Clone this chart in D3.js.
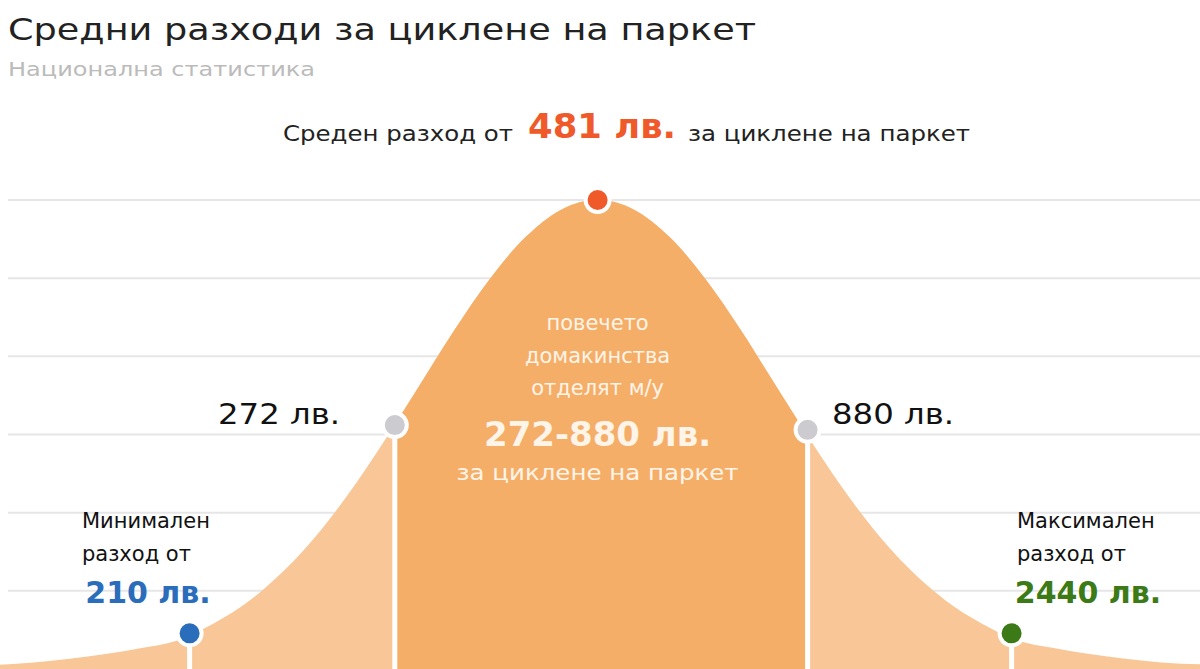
<!DOCTYPE html>
<html><head><meta charset="utf-8">
<script src="https://cdn.jsdelivr.net/npm/d3@7"></script>
<style>body{margin:0;background:#fff}svg{display:block}</style>
</head><body><svg id="c" width="1200" height="669"></svg>
<script>
// curve shape (position units 0-100, height 0-100)
const curveX = [0,2.8,5.8,8.8,11.8,14.8,17.8,20.8,23.8,26.8,29.8,32.8,34.8,37.8,40.8,43.8,46.8,49.8,52.8,55.8,58.8,61.8,64.8,66.8,69.8,72.8,75.8,78.8,81.8,84.8,87.8,90.8,93.8,96.8,100];
const curveY = [0.9,1.4,2.2,3.2,4.5,6.1,9.7,14.6,21.3,29.8,40.1,51.7,59.8,72,83.1,92.1,98,100,98,92.1,83.1,72,59.8,51.7,40.1,29.8,21.3,14.6,9.7,6.1,4.5,3.2,2.2,1.4,1.0];
const gridTicks = [16.67,33.33,50,66.67,83.33,100];
const markerLabels = ["210 лв.","272 лв.","481 лв.","880 лв.","2440 лв."];
const markerValues = [210,272,481,880,2440];
const markerPos = [15.8,32.9,49.8,67.3,84.3];
const markerHeight = [7.6,52,100,51,7.6];
const markerColors = ["#2A6EBB","#CBCBD0","#F05A2A","#CBCBD0","#3B7A17"];

const svg = d3.select("#c");
const x = d3.scaleLinear().domain([0,100]).range([0,1200]);
const y = d3.scaleLinear().domain([0,100]).range([669,200]);

svg.append("g").selectAll("line").data(gridTicks).join("line")
 .attr("x1",8).attr("x2",1200).attr("y1",d=>y(d)).attr("y2",d=>y(d))
 .attr("stroke","#e6e6e6").attr("stroke-width",2);

const pts = curveX.map((v,i)=>[v,curveY[i]]);
const area = d3.area().x(d=>x(d[0])).y0(y(0)).y1(d=>y(d[1])).curve(d3.curveMonotoneX);
const defs = svg.append("defs");
defs.append("clipPath").attr("id","mid").append("rect")
 .attr("x",x(markerPos[1])).attr("width",x(markerPos[3])-x(markerPos[1])).attr("y",0).attr("height",669);
svg.append("path").datum(pts).attr("d",area).attr("fill","#F9C797");
svg.append("path").datum(pts).attr("d",area).attr("fill","#F5AE68").attr("clip-path","url(#mid)");

[0,1,3,4].forEach(i=>{
 svg.append("line").attr("x1",x(markerPos[i])).attr("x2",x(markerPos[i]))
  .attr("y1",y(markerHeight[i])).attr("y2",669).attr("stroke","#fff").attr("stroke-width",5);
});
svg.append("g").selectAll("circle").data(markerPos).join("circle")
 .attr("cx",d=>x(d)).attr("cy",(d,i)=>y(markerHeight[i])).attr("r",12)
 .attr("fill",(d,i)=>markerColors[i]).attr("stroke","#fff").attr("stroke-width",4);

const F = "DejaVu Sans, Verdana, sans-serif";
function t(s,xx,yy,size,col,anchor,weight){
 return svg.append("text").text(s).attr("x",xx).attr("y",yy).attr("font-size",size)
  .attr("fill",col).attr("text-anchor",anchor||"start").attr("font-family",F).attr("font-weight",weight||"normal");
}
t("Средни разходи за циклене на паркет",8,40,31,"#222").attr("textLength",748).attr("lengthAdjust","spacingAndGlyphs");
t("Национална статистика",8,76,20,"#bbb").attr("textLength",307).attr("lengthAdjust","spacingAndGlyphs");

t("Среден разход от",283,141,21,"#222").attr("textLength",230).attr("lengthAdjust","spacingAndGlyphs");
t(markerLabels[2],528,138,34,"#F05A2A","start","bold").attr("textLength",148).attr("lengthAdjust","spacingAndGlyphs");
t("за циклене на паркет",688,141,21,"#222").attr("textLength",282).attr("lengthAdjust","spacingAndGlyphs");

t(markerLabels[1],218,424,29,"#111").attr("textLength",122).attr("lengthAdjust","spacingAndGlyphs");
t(markerLabels[3],832,424,29,"#111").attr("textLength",122).attr("lengthAdjust","spacingAndGlyphs");

t("Минимален",82,528,21,"#111");
t("разход от",82,561,21,"#111");
t(markerLabels[0],148,603,30,"#2A6EBB","middle","bold");
t("Максимален",1017,528,21,"#111");
t("разход от",1017,561,21,"#111");
t(markerLabels[4],1088,603,30,"#3B7A17","middle","bold");

const cx = x(markerPos[2]);
const wc = "#FFF4E8";
t("повечето",cx,330,21,wc,"middle");
t("домакинства",cx,363,21,wc,"middle");
t("отделят м/у",cx,395,21,wc,"middle");
t(markerValues[1]+"-"+markerValues[3]+" лв.",cx,446,34,wc,"middle","bold");
t("за циклене на паркет",cx,480,21,wc,"middle").attr("textLength",282).attr("lengthAdjust","spacingAndGlyphs");
</script></body></html>
